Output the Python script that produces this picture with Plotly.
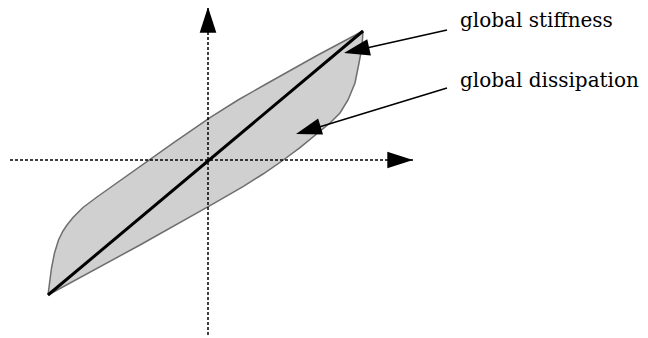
import plotly.graph_objects as go

# ──────────  DATA  (units = pixels from the axis crossing)  ──────────
upper_x = [-160, -158.5, -156.5, -153.5, -149.5, -145, -141, -135, -125, -111,
           -88, -64, -35, 2, 30, 59, 109, 155]
upper_y = [-135, -122, -108, -93, -80, -71, -65, -57.5, -47.5, -37,
           -20.5, -3.5, 16.8, 42.3, 60, 76.5, 104.5, 129]
lower_x = [155, 154, 151, 147, 140, 132, 122, 109, 92, 74, 55, 35, 18, 2, -68, -160]
lower_y = [129, 113, 97, 77, 60, 47, 37, 26, 12.4, -1, -14, -26.6, -36.6, -45.6, -85, -135]

stiff_x = [-160, 155]
stiff_y = [-135, 129]

haxis_x = [-198, 205]
haxis_y = [0, 0]
vaxis_x = [0, 0]
vaxis_y = [-175, 153]

labels  = ["global stiffness", "global dissipation"]
label_x = [250, 250]
label_y = [140, 80]
arrow_tail_x = [239, 239]
arrow_tail_y = [130, 72]
arrow_head_x = [136, 88]
arrow_head_y = [107, 26]

# ──────────  PLOT  ──────────
fig = go.Figure()

fig.add_trace(go.Scatter(
    x=upper_x + lower_x, y=upper_y + lower_y,
    mode="lines", fill="toself", fillcolor="#d0d0d0",
    line=dict(color="#6e6e6e", width=1.5)
))

fig.add_trace(go.Scatter(
    x=stiff_x, y=stiff_y, mode="lines",
    line=dict(color="black", width=3)
))

head = dict(symbol="arrow", size=[0, 27], angleref="previous",
            color="black", opacity=1, line=dict(width=0))

# dotted axes with arrow heads
for ax_x, ax_y in [(haxis_x, haxis_y), (vaxis_x, vaxis_y)]:
    fig.add_trace(go.Scatter(
        x=ax_x, y=ax_y, mode="lines",
        line=dict(color="black", width=1.5, dash="3px,2px")
    ))
    fig.add_trace(go.Scatter(x=ax_x, y=ax_y, mode="markers", marker=head))

# label arrows
for tx, ty, hx, hy in zip(arrow_tail_x, arrow_tail_y, arrow_head_x, arrow_head_y):
    fig.add_trace(go.Scatter(
        x=[tx, hx], y=[ty, hy], mode="lines+markers",
        line=dict(color="black", width=1.6), marker=head
    ))

for txt, lx, ly in zip(labels, label_x, label_y):
    fig.add_annotation(
        x=lx, y=ly, text=txt, showarrow=False,
        xanchor="left", yanchor="middle",
        font=dict(family="DejaVu Serif", size=20, color="black")
    )

# page body has an 8px margin, so shift the ranges to keep 1 unit = 1 px
fig.update_xaxes(range=[-200, 448], visible=False)
fig.update_yaxes(range=[-186, 152], visible=False)
fig.update_layout(
    width=648, height=338, showlegend=False,
    margin=dict(t=0, r=0, b=0, l=0),
    plot_bgcolor="white", paper_bgcolor="white"
)

fig.write_html("out.html")
